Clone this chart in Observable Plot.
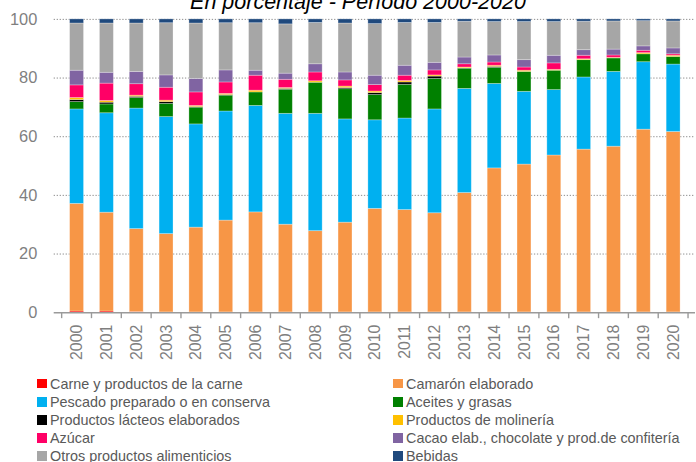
<!DOCTYPE html>
<html>
<head>
<meta charset="utf-8">
<script src="https://cdn.jsdelivr.net/npm/d3@7"></script>
<script src="https://cdn.jsdelivr.net/npm/@observablehq/plot@0.6"></script>
<style>
  html, body { margin: 0; padding: 0; background: #fff; }
  body { width: 696px; height: 462px; overflow: hidden; position: relative; font-family: "Liberation Sans", Arial, sans-serif; }
  #title { position: absolute; left: 0; width: 716px; top: -10px; text-align: center; font-style: italic; font-size: 21.5px; color: #000; white-space: nowrap; }
  #chart { position: absolute; left: 0; top: 0; }
  #legend { position: absolute; left: 0; top: 0; width: 696px; height: 462px; pointer-events: none; }
  .item { position: absolute; display: flex; align-items: center; font-family: "Liberation Sans", sans-serif; font-size: 14.4px; color: #595959; white-space: nowrap; height: 18px; }
  .sw { width: 10px; height: 9.5px; margin-right: 3px; flex: none; }
</style>
</head>
<body>
<div id="title">En porcentaje - Período 2000-2020</div>
<div id="chart"></div>
<div id="legend"></div>
<script>
const years = ["2000","2001","2002","2003","2004","2005","2006","2007","2008","2009","2010","2011","2012","2013","2014","2015","2016","2017","2018","2019","2020"];

const seriesNames = [
  "Carne y productos de la carne",
  "Camarón elaborado",
  "Pescado preparado o en conserva",
  "Aceites y grasas",
  "Productos lácteos elaborados",
  "Productos de molinería",
  "Azúcar",
  "Cacao elab., chocolate y prod.de confitería",
  "Otros productos alimenticios",
  "Bebidas"
];
const seriesColors = ["#ff0000","#f79646","#00b0f0","#008000","#000000","#ffc000","#ff0066","#8064a2","#a6a6a6","#1f497d"];

const carne     = [0.4, 0.4, 0.2, 0.1, 0.1, 0.1, 0.1, 0.1, 0.1, 0.1, 0.1, 0.1, 0.1, 0.1, 0.1, 0.1, 0.1, 0.1, 0.1, 0.1, 0.1];
const camaron   = [36.7, 33.7, 28.3, 26.7, 28.9, 31.3, 34.1, 29.9, 27.7, 30.6, 35.3, 34.9, 33.8, 40.7, 49.1, 50.4, 53.5, 55.5, 56.5, 62.3, 61.5];
const pescado   = [32.2, 33.9, 41.1, 39.9, 35.2, 37.2, 36.3, 37.8, 40.0, 35.2, 30.2, 31.2, 35.4, 35.5, 28.8, 24.8, 22.3, 24.6, 25.5, 23.0, 23.0];
const aceites   = [2.5, 3.0, 3.6, 4.5, 5.7, 5.4, 4.6, 8.2, 10.6, 10.3, 8.6, 11.5, 10.4, 6.9, 5.5, 6.8, 6.6, 5.9, 4.6, 2.7, 2.6];
const lacteos   = [0.7, 0.6, 0.4, 0.6, 0.2, 0.2, 0.0, 0.3, 0.0, 0.4, 0.7, 0.8, 0.8, 0.1, 0.3, 0.0, 0.0, 0.0, 0.0, 0.0, 0.0];
const molineria = [0.7, 0.6, 0.4, 0.5, 0.4, 0.4, 0.6, 0.3, 0.5, 0.5, 0.5, 0.5, 0.4, 0.3, 0.4, 0.4, 0.3, 0.3, 0.2, 0.4, 0.4];
const azucar    = [4.3, 5.9, 3.9, 4.4, 4.6, 3.9, 5.1, 2.8, 3.0, 2.1, 2.2, 1.8, 1.7, 1.1, 1.1, 1.1, 2.2, 1.2, 0.8, 0.8, 0.5];
const cacao     = [5.0, 3.7, 4.2, 4.2, 4.6, 4.1, 1.7, 2.1, 2.8, 2.7, 3.2, 3.4, 2.6, 2.3, 2.4, 2.5, 2.6, 1.9, 2.0, 1.5, 2.0];
const otros     = [16.1, 16.8, 16.5, 17.8, 18.9, 16.1, 16.2, 16.8, 14.1, 16.7, 17.6, 14.6, 13.6, 12.2, 11.4, 13.0, 11.5, 9.7, 9.6, 8.6, 9.2];
const bebidas   = [1.4, 1.4, 1.4, 1.3, 1.4, 1.3, 1.3, 1.7, 1.2, 1.4, 1.6, 1.2, 1.2, 0.8, 0.9, 0.9, 0.9, 0.8, 0.7, 0.6, 0.7];

const yTicks = [0, 20, 40, 60, 80, 100];
const gridTicks = [20, 40, 60, 80, 100];

const seriesValues = [carne, camaron, pescado, aceites, lacteos, molineria, azucar, cacao, otros, bebidas];

const rows = [];
years.forEach((yr, i) => {
  seriesNames.forEach((name, s) => {
    rows.push({year: yr, serie: name, value: seriesValues[s][i]});
  });
});

const plot = Plot.plot({
  width: 700,
  height: 370,
  marginLeft: 54,
  marginRight: 1,
  marginTop: 19,
  marginBottom: 56,
  style: { background: "transparent", overflow: "visible" },
  x: { domain: years, paddingInner: 0.545, paddingOuter: 0.2725, align: 0.5, label: null },
  y: { domain: [0, 100], ticks: yTicks, label: null },
  color: { domain: seriesNames, range: seriesColors },
  marks: [
    Plot.ruleY(gridTicks, { stroke: "#8c8c8c", strokeWidth: 1, strokeDasharray: "1.3,1.7" }),
    Plot.barY(rows, Plot.stackY({
      x: "year", y: "value", fill: "serie", z: "serie",
      stroke: "#ffffff", strokeOpacity: 0.35, strokeWidth: 0.8
    })),
    Plot.ruleY([0], { stroke: "#9a9a9a", strokeWidth: 1.6 }),
    Plot.axisY({ ticks: yTicks, tickSize: 0, tickPadding: 17, fontSize: 16.5, fill: "#7f7f7f", label: null,
      fontFamily: "Liberation Sans, sans-serif" }),
    Plot.axisX({ tickSize: 0, tickPadding: 12, tickRotate: -90, fontSize: 16, fill: "#7f7f7f", label: null,
      fontFamily: "Liberation Sans, sans-serif" })
  ]
});

document.getElementById("chart").appendChild(plot);

// tick marks at category boundaries (Excel style)
const xs = plot.scale("x");
const ys = plot.scale("y");
const y0 = ys.apply(0);
const gap = (xs.step - xs.bandwidth) / 2;
const bounds = years.map(yr => xs.apply(yr) - gap);
bounds.push(xs.apply(years[years.length - 1]) + xs.bandwidth + gap);
const svg = d3.select(plot);
svg.append("g").selectAll("line").data(bounds).join("line")
  .attr("x1", d => d).attr("x2", d => d)
  .attr("y1", y0).attr("y2", y0 + 6)
  .attr("stroke", "#9a9a9a").attr("stroke-width", 1.4);

// legend
const legend = document.getElementById("legend");
const colX = [37, 393];
const rowCenter = 383.7;
const rowStep = 18.1;
seriesNames.forEach((name, i) => {
  const col = i % 2, row = Math.floor(i / 2);
  const el = document.createElement("div");
  el.className = "item";
  el.style.left = colX[col] + "px";
  el.style.top = (rowCenter - 9 + row * rowStep) + "px";
  const sw = document.createElement("span");
  sw.className = "sw";
  sw.style.background = seriesColors[i];
  const tx = document.createElement("span");
  tx.textContent = name;
  el.appendChild(sw); el.appendChild(tx);
  legend.appendChild(el);
});
</script>
</body>
</html>
